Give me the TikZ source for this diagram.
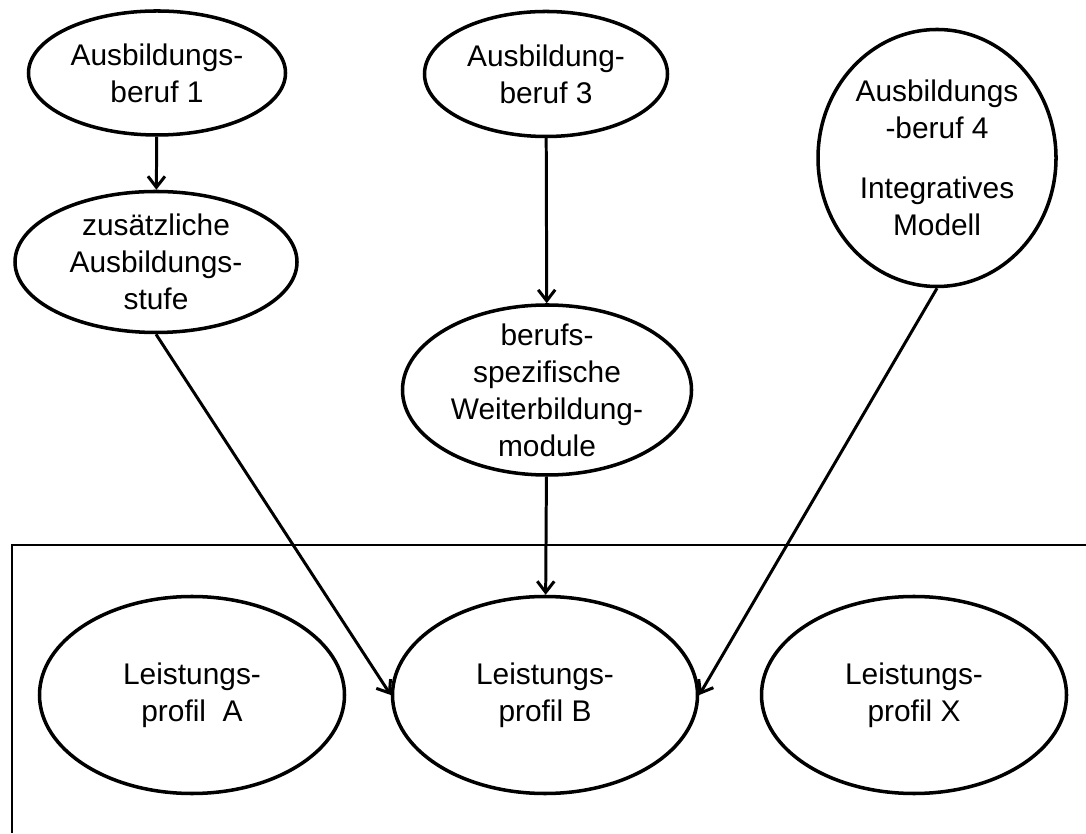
\documentclass[tikz,border=0pt]{standalone}
\usepackage{fontspec}
\setmainfont{Liberation Sans}
\usepackage{tikz}
\usetikzlibrary{arrows.meta,shapes.geometric}

\begin{document}
\begin{tikzpicture}[
    blob/.style={draw, ellipse, inner sep=0pt, align=center,
                 font=\fontsize{17pt}{21pt}\selectfont, line width=2pt},
    prof/.style={blob, minimum width=6.1cm, minimum height=3.94cm},
    arr/.style={-{Straight Barb[length=2.2mm,width=3.4mm]}, line width=1.7pt},
    frame/.style={line width=1.7pt}
]
\useasboundingbox (0,0) rectangle (21.72,16.66);

\node[blob, minimum width=5.14cm, minimum height=2.48cm] (ab1) at (3.14,15.2) {Ausbildungs-\\beruf 1};
\node[blob, minimum width=5.64cm, minimum height=2.82cm] (stufe) at (3.12,11.42) {zusätzliche\\Ausbildungs-\\stufe};
\node[blob, minimum width=4.86cm, minimum height=2.5cm] (ab3) at (10.92,15.18) {Ausbildung-\\beruf 3};
\node[blob, minimum width=5.78cm, minimum height=3.4cm, inner ysep=-0.14cm] (weiter) at (10.94,8.86)
    {berufs-\\spezifische\\Weiterbildung-\\module};
\node[blob, minimum width=4.76cm, minimum height=5.14cm] (ab4) at (18.74,13.5)
    {Ausbildungs\\-beruf 4\\[13pt]Integratives\\Modell};

% Leistungsprofile
\draw[frame] (21.72,5.76) -- (0.24,5.76) -- (0.24,0);
\node[prof] (lpa) at (3.84,2.76) {Leistungs-\\profil~~A};
\node[prof] (lpb) at (10.9,2.76) {Leistungs-\\profil B};
\node[prof] (lpx) at (18.28,2.76) {Leistungs-\\profil X};

\draw[arr] (ab1) -- (stufe);
\draw[arr] (ab3) -- (weiter);
\draw[arr] (weiter) -- (lpb);
\draw[arr] (stufe.south) -- (lpb.west);
\draw[arr] (ab4.south) -- (lpb.east);
\end{tikzpicture}
\end{document}
